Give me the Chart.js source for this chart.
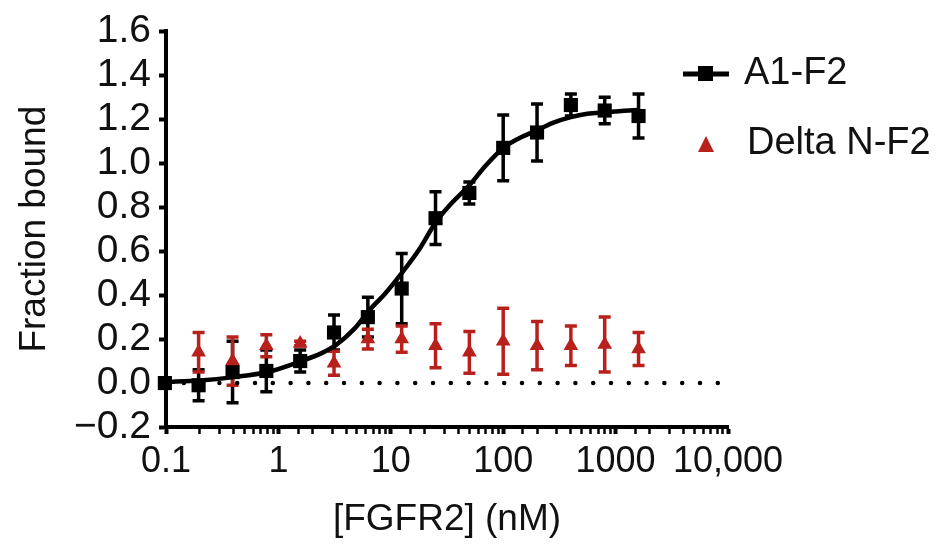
<!DOCTYPE html>
<html><head><meta charset="utf-8">
<script src="https://cdn.jsdelivr.net/npm/chart.js@4.4.0/dist/chart.umd.min.js"></script>
<style>html,body{margin:0;padding:0;background:#fff}#wrap{position:relative;width:940px;height:544px}</style>
</head><body><div id="wrap"><canvas id="c" width="940" height="544"></canvas></div>
<script>
// ---- data ----
const concentrations = [0.0977, 0.195, 0.391, 0.781, 1.5625, 3.125, 6.25, 12.5, 25, 50, 100, 200, 400, 800, 1600];
const a1Mean = [0.0, -0.01, 0.05, 0.055, 0.10, 0.23, 0.30, 0.43, 0.75, 0.865, 1.07, 1.14, 1.265, 1.24, 1.215];
const a1Err  = [0.01, 0.07, 0.14, 0.095, 0.05, 0.08, 0.09, 0.16, 0.12, 0.05, 0.15, 0.13, 0.05, 0.06, 0.10];
const deltaConc = [0.195, 0.391, 0.781, 1.5625, 3.125, 6.25, 12.5, 25, 50, 100, 200, 400, 800, 1600];
const deltaMean = [0.14, 0.10, 0.17, 0.18, 0.09, 0.20, 0.20, 0.17, 0.14, 0.19, 0.17, 0.17, 0.175, 0.155];
const deltaErr  = [0.09, 0.11, 0.05, 0.01, 0.055, 0.045, 0.06, 0.10, 0.095, 0.15, 0.11, 0.09, 0.125, 0.075];
const fitX = [0.0977, 0.2, 0.4, 0.8, 1.6, 2.4, 3.2, 4.8, 6.4, 9, 12.5, 18, 25, 35, 50, 70, 100, 140, 200, 280, 400, 560, 800, 1130, 1600];
const fitY = [0.005, 0.012, 0.027, 0.05, 0.10, 0.135, 0.17, 0.25, 0.33, 0.41, 0.50, 0.61, 0.73, 0.82, 0.90, 0.99, 1.07, 1.115, 1.15, 1.185, 1.21, 1.225, 1.232, 1.238, 1.242];
const zeroLineX = [0.1, 10000];
const xTickLabels = {"-1": "0.1", "0": "1", "1": "10", "2": "100", "3": "1000", "4": "10,000"};
const seriesNames = ["A1-F2", "Delta N-F2"];
const yTitle = "Fraction bound";
const xTitle = "[FGFR2] (nM)";

const RED = '#b8201c';
const FONT = "'Liberation Sans', Arial, sans-serif";

const toPts = (xs, ys) => xs.map((v, i) => ({x: v, y: ys[i]}));

const errorBars = {
  id: 'errorBars',
  beforeDatasetsDraw(chart) {
    const {ctx, scales: {x, y}} = chart;
    const list = chart.data.datasets.filter(d => d.errors).reverse();
    list.forEach(ds => {
      ctx.save();
      ctx.strokeStyle = ds.errorColor;
      ctx.lineWidth = 3.5;
      ds.data.forEach((p, j) => {
        const e = ds.errors[j];
        const px = x.getPixelForValue(p.x);
        const t = y.getPixelForValue(p.y + e), b = y.getPixelForValue(p.y - e);
        ctx.beginPath();
        ctx.moveTo(px, t); ctx.lineTo(px, b);
        ctx.moveTo(px - 6, t); ctx.lineTo(px + 6, t);
        ctx.moveTo(px - 6, b); ctx.lineTo(px + 6, b);
        ctx.stroke();
      });
      ctx.restore();
    });
  }
};

const legendPlugin = {
  id: 'customLegend',
  afterDraw(chart) {
    const ctx = chart.ctx;
    ctx.save();
    ctx.strokeStyle = '#000'; ctx.lineWidth = 5;
    ctx.beginPath(); ctx.moveTo(683, 74); ctx.lineTo(729, 74); ctx.stroke();
    ctx.fillStyle = '#000'; ctx.fillRect(698, 66, 15, 15);
    ctx.fillStyle = RED;
    ctx.beginPath(); ctx.moveTo(706, 136); ctx.lineTo(714, 152); ctx.lineTo(698, 152); ctx.closePath(); ctx.fill();
    ctx.fillStyle = '#111';
    ctx.font = '38px ' + FONT;
    ctx.textBaseline = 'middle';
    ctx.textAlign = 'left';
    ctx.fillText(seriesNames[0], 744, 74);
    ctx.fillText(seriesNames[1], 747, 144);
    ctx.restore();
  }
};

const isPow10 = v => Math.abs(Math.log10(v) - Math.round(Math.log10(v))) < 1e-6;

new Chart(document.getElementById('c'), {
  type: 'scatter',
  data: {
    datasets: [
      {
        label: seriesNames[1], data: toPts(deltaConc, deltaMean), errors: deltaErr, errorColor: RED,
        pointStyle: 'triangle', pointRadius: 8.5, backgroundColor: RED, borderColor: RED, borderWidth: 0,
        showLine: false, clip: false, order: 1
      },
      {
        label: seriesNames[0], data: toPts(concentrations, a1Mean), errors: a1Err, errorColor: '#000',
        pointStyle: 'rect', pointRadius: 10, backgroundColor: '#000', borderColor: '#000', borderWidth: 0,
        showLine: false, clip: false, order: 2
      },
      {
        label: 'fit', data: toPts(fitX, fitY), showLine: true, borderColor: '#000', borderWidth: 4.5,
        pointRadius: 0, cubicInterpolationMode: 'monotone', clip: false, order: 3
      },
      {
        label: 'zero', data: toPts(zeroLineX, [0, 0]), showLine: true, borderColor: '#000', borderWidth: 4.5,
        borderDash: [0, 17.8], borderCapStyle: 'round', pointRadius: 0, clip: false, order: 4
      }
    ]
  },
  options: {
    responsive: false, animation: false, devicePixelRatio: 1,
    layout: {padding: {left: 0, right: 212, top: 22, bottom: 0}},
    plugins: {legend: {display: false}, tooltip: {enabled: false}},
    scales: {
      x: {
        type: 'logarithmic', min: 0.1, max: 10000,
        afterFit: s => { s.height = 117; },
        border: {display: true, color: '#000', width: 4},
        grid: {drawOnChartArea: false, drawTicks: true, tickLength: 7, tickColor: '#000',
               tickWidth: c => (c.tick && isPow10(c.tick.value)) ? 4 : 2.5},
        ticks: {
          autoSkip: false, maxRotation: 0, padding: 6, color: '#111',
          font: {family: FONT, size: 36},
          callback: v => isPow10(v) ? xTickLabels[String(Math.round(Math.log10(v)))] : ''
        },
        title: {display: true, text: xTitle, color: '#111', font: {family: FONT, size: 37}, padding: {top: 0, bottom: 2}}
      },
      y: {
        min: -0.2, max: 1.6,
        afterFit: s => { s.width = 166; },
        border: {display: true, color: '#000', width: 4},
        grid: {drawOnChartArea: false, drawTicks: true, tickLength: 7, tickColor: '#000', tickWidth: 4},
        ticks: {
          autoSkip: false, stepSize: 0.2, padding: 8, color: '#111', font: {family: FONT, size: 39},
          callback: v => { const r = Math.round(v * 10) / 10; return r < 0 ? '\u2212' + Math.abs(r).toFixed(1) : r.toFixed(1); }
        },
        title: {display: true, text: yTitle, color: '#111', font: {family: FONT, size: 37}, padding: {top: 13, bottom: 0}}
      }
    }
  },
  plugins: [errorBars, legendPlugin]
});
</script></body></html>
